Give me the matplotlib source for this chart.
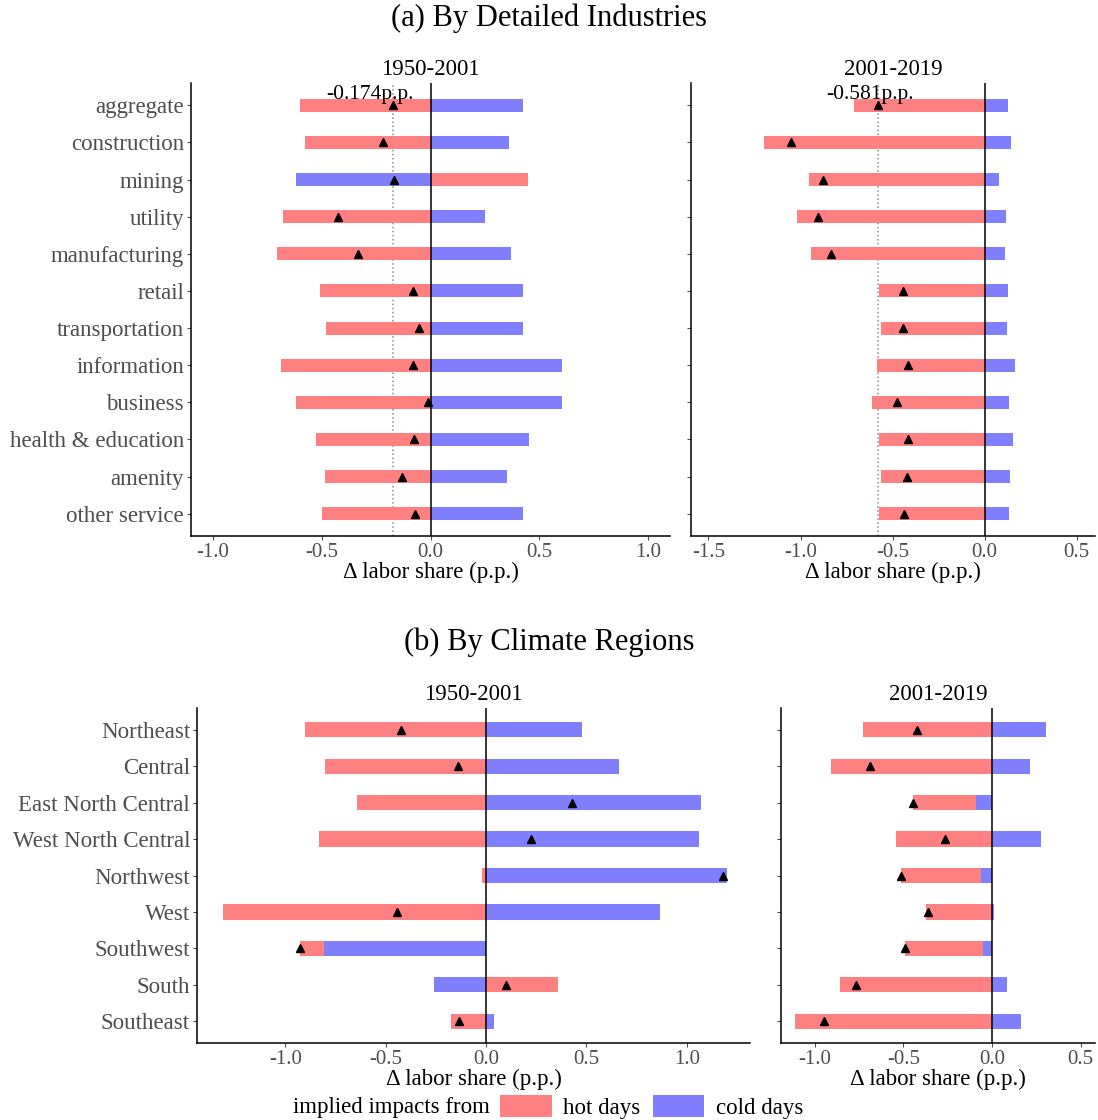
import numpy as np
import matplotlib
matplotlib.use("Agg")
import matplotlib.pyplot as plt
from matplotlib.patches import Patch

plt.rcParams['font.family'] = ['Liberation Serif', 'DejaVu Serif']
plt.rcParams['axes.unicode_minus'] = False

# Panel (a): detailed industries
industries = ['aggregate', 'construction', 'mining', 'utility', 'manufacturing', 'retail',
              'transportation', 'information', 'business', 'health & education',
              'amenity', 'other service']
ind_hot_5001 = [-0.601, -0.578, 0.450, -0.679, -0.706, -0.509, -0.482, -0.688, -0.619, -0.528, -0.486, -0.500]
ind_cold_5001 = [0.427, 0.362, -0.619, 0.252, 0.372, 0.427, 0.427, 0.606, 0.606, 0.454, 0.353, 0.427]
ind_hot_0119 = [-0.708, -1.199, -0.956, -1.021, -0.945, -0.572, -0.565, -0.583, -0.609, -0.572, -0.560, -0.572]
ind_cold_0119 = [0.127, 0.145, 0.080, 0.117, 0.112, 0.128, 0.123, 0.166, 0.134, 0.156, 0.139, 0.134]

# Panel (b): climate regions
regions = ['Northeast', 'Central', 'East North Central', 'West North Central', 'Northwest',
           'West', 'Southwest', 'South', 'Southeast']
reg_hot_5001 = [-0.902, -0.803, -0.644, -0.833, -0.020, -1.310, -0.120, 0.358, -0.177]
reg_cold_5001 = [0.477, 0.661, 1.073, 1.059, 1.202, 0.865, -0.807, -0.257, 0.041]
reg_hot_0119 = [-0.730, -0.906, -0.356, -0.543, -0.453, -0.374, -0.441, -0.855, -1.109]
reg_cold_0119 = [0.306, 0.215, -0.091, 0.277, -0.062, 0.011, -0.051, 0.085, 0.164]

HOT = '#FF8080'
COLD = '#8080FF'
W, H = 1098, 1120


def px_axes(fig, l, t, r, b):
    return fig.add_axes([l / W, 1 - b / H, (r - l) / W, (b - t) / H])


def panel(ax, labels, hot, cold, title, xlim, xticks, show_labels, bar_h, agg_line=False, label_dx=0.0):
    y = np.arange(len(labels))
    # stacked like ggplot: cold next to zero, hot on the outside
    for i in range(len(labels)):
        pos, neg = 0.0, 0.0
        for v, c in [(cold[i], COLD), (hot[i], HOT)]:
            if v >= 0:
                ax.barh(y[i], v, left=pos, height=bar_h, color=c, linewidth=0, zorder=2)
                pos += v
            else:
                ax.barh(y[i], v, left=neg, height=bar_h, color=c, linewidth=0, zorder=2)
                neg += v
    total = np.array(hot) + np.array(cold)
    ax.axvline(0, color='black', lw=1.1, zorder=3)
    if agg_line:
        ax.axvline(total[0], color='#8c8c8c', lw=1.1, ls=':', zorder=1)
        ax.text(total[0] + label_dx, -0.3, f'{total[0]:.3f}p.p.', ha='center', va='center',
                fontsize=15.5, color='black', zorder=5)
    ax.plot(total, y, '^', color='black', ms=6, zorder=4)
    ax.set_xlim(*xlim)
    ax.set_ylim(len(labels) - 0.4, -0.6)
    ax.set_xticks(xticks)
    ax.set_xticklabels([f'{t:.1f}' for t in xticks], fontsize=15, color='#4D4D4D')
    ax.set_yticks(y)
    if show_labels:
        ax.set_yticklabels(labels, fontsize=16.5, color='#4D4D4D')
    else:
        ax.set_yticklabels([])
    ax.tick_params(axis='both', length=3, width=0.8, color='#4D4D4D', pad=2)
    for s in ['top', 'right']:
        ax.spines[s].set_visible(False)
    for s in ['left', 'bottom']:
        ax.spines[s].set_linewidth(1.1)
        ax.spines[s].set_color('black')
    ax.set_xlabel('Δ labor share (p.p.)', fontsize=16.5, labelpad=0)
    ax.set_title(title, fontsize=16.5, pad=6)


fig = plt.figure(figsize=(W / 100, H / 100), dpi=100)

fig.text(0.5, 1 - 18 / H, '(a) By Detailed Industries', ha='center', va='center', fontsize=22)
fig.text(0.5, 1 - 642 / H, '(b) By Climate Regions', ha='center', va='center', fontsize=22)

ax1 = px_axes(fig, 191, 83, 670, 536)
panel(ax1, industries, ind_hot_5001, ind_cold_5001, '1950-2001', (-1.1, 1.1),
      [-1.0, -0.5, 0.0, 0.5, 1.0], True, 0.35, agg_line=True, label_dx=-0.105)

ax2 = px_axes(fig, 691, 83, 1095, 536)
panel(ax2, industries, ind_hot_0119, ind_cold_0119, '2001-2019', (-1.595, 0.6),
      [-1.5, -1.0, -0.5, 0.0, 0.5], False, 0.35, agg_line=True, label_dx=-0.04)

ax3 = px_axes(fig, 197, 708, 750, 1043)
panel(ax3, regions, reg_hot_5001, reg_cold_5001, '1950-2001', (-1.44, 1.315),
      [-1.0, -0.5, 0.0, 0.5, 1.0], True, 0.42)

ax4 = px_axes(fig, 781, 708, 1095, 1043)
panel(ax4, regions, reg_hot_0119, reg_cold_0119, '2001-2019', (-1.19, 0.58),
      [-1.0, -0.5, 0.0, 0.5], False, 0.42)

# legend
fig.text(490 / W, 1 - 1107 / H, 'implied impacts from', ha='right', va='center', fontsize=16.5)
handles = [Patch(facecolor=HOT, edgecolor='none', label='hot days'),
           Patch(facecolor=COLD, edgecolor='none', label='cold days')]
fig.legend(handles=handles, loc='center left', bbox_to_anchor=(500 / W, 1 - 1107 / H),
           ncol=2, frameon=False, fontsize=16.5, handlelength=2.25, handleheight=1.05,
           handletextpad=0.5, columnspacing=0.55, borderpad=0, borderaxespad=0)

fig.savefig('out.png', dpi=100)
